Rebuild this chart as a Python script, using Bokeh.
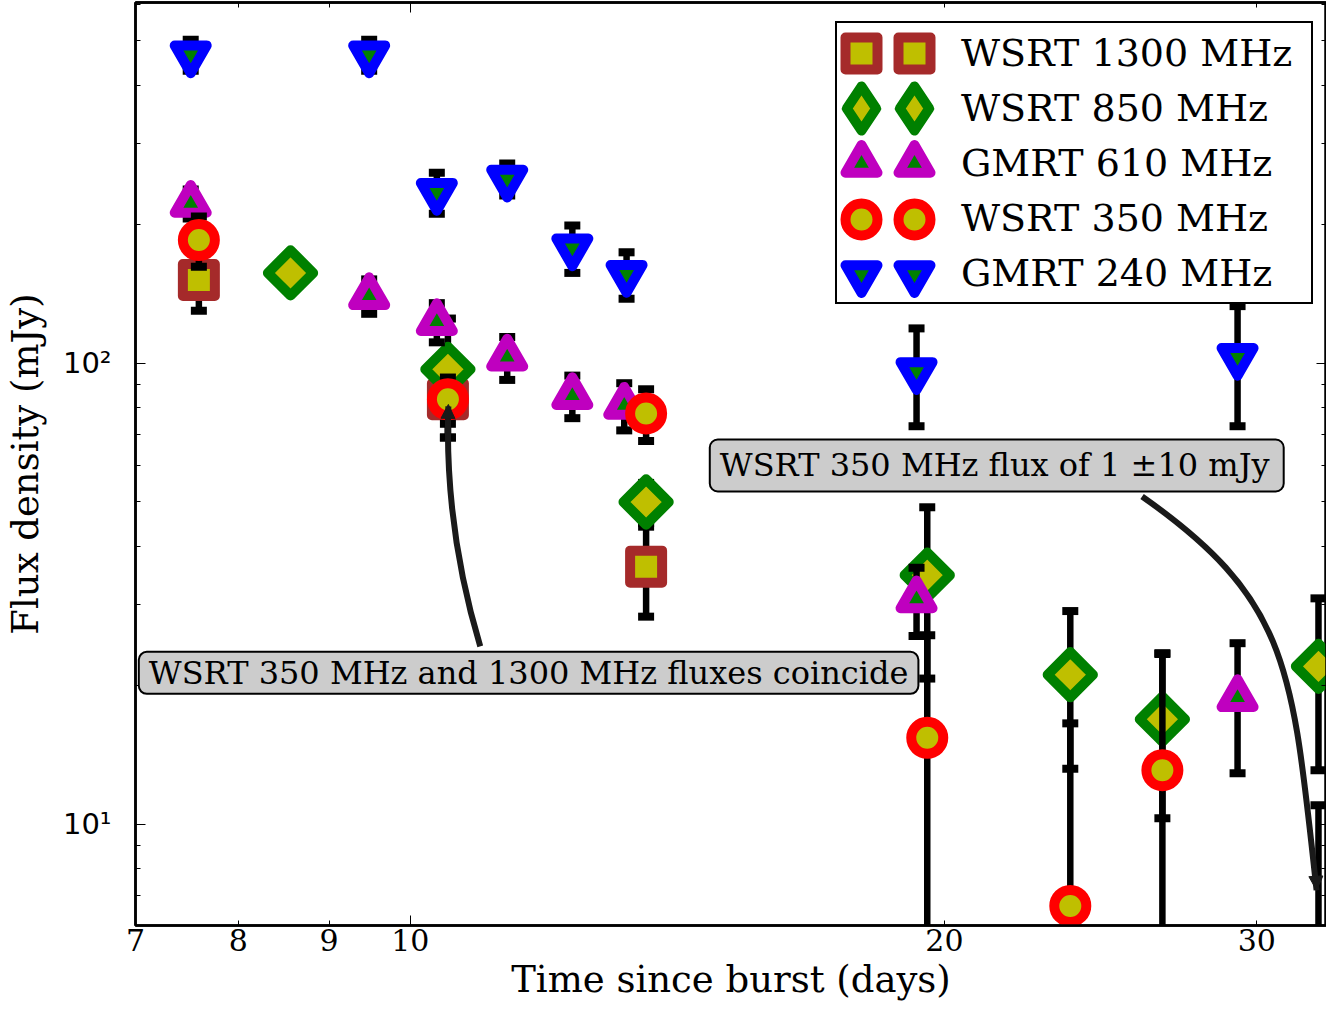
import numpy as np
from bokeh.plotting import figure
from bokeh.models import (FixedTicker, LogAxis, Legend, LegendItem, Label, Arrow,
                          NormalHead, Range1d, BasicTickFormatter)
from bokeh.embed import file_html
from bokeh.resources import INLINE

# ---------------- data (time in days, flux density & error in mJy) ----------------
t_1300 = [7.60, 10.50, 13.58]
f_1300 = [151.5, 83.5, 36.2]
e_1300 = [21.5, 14.5, 8.0]

t_850 = [8.56, 10.50, 13.58, 19.56, 23.55, 26.54, 32.5]
f_850 = [157.0, 97.0, 50.0, 34.7, 21.1, 16.9, 22.0]
e_850 = [10.0, 28.0, 5.0, 14.0, 7.9, 6.6, 8.9]

t_610 = [7.52, 9.48, 10.35, 11.34, 12.34, 13.20, 19.29, 29.26]
f_610 = [222.0, 140.0, 123.0, 103.0, 85.0, 81.0, 30.8, 18.8]
e_610 = [16.0, 12.0, 12.0, 11.0, 9.0, 9.5, 5.2, 5.9]

t_350 = [7.60, 10.50, 13.58, 19.56, 23.55, 26.54, 32.5]
f_350 = [185.0, 83.5, 77.8, 15.4, 6.65, 13.1, 1.0]
e_350 = [23.0, 9.6, 10.0, 10.3, 9.9, 10.3, 10.0]

t_240 = [7.52, 9.48, 10.35, 11.34, 12.34, 13.24, 19.29, 29.26]
f_240 = [467.0, 467.0, 235.0, 251.0, 178.0, 156.0, 96.0, 103.0]
e_240 = [36.0, 36.0, 24.0, 20.0, 21.0, 18.0, 23.0, 30.0]

series_names = ["WSRT 1300 MHz", "WSRT 850 MHz", "GMRT 610 MHz", "WSRT 350 MHz", "GMRT 240 MHz"]

x_ticks = [7, 8, 9, 10, 20, 30]
y_ticks = [10, 100]
y_minor = [6, 7, 8, 9, 20, 30, 40, 50, 60, 70, 80, 90, 200, 300, 400, 500, 600]
y_tick_labels = {10: "10¹", 100: "10²"}

# annotations (data coordinates)
note1_text = "WSRT 350 MHz and 1300 MHz fluxes coincide"
note1_pos = (7.03, 21.3)
arrow1 = dict(x0=10.95, y0=24.3, cx0=10.615, cy0=36.2, cx1=10.469, cy1=54.0, x1=10.506, y1=80.6)
head1 = dict(xs=10.499, ys=74.0, xe=10.506, ye=81.4)

note2_text = "WSRT 350 MHz flux of 1  \u00b110 mJy"
note2_pos = (14.75, 60.0)
arrow2 = dict(x0=25.85, y0=51.4, cx0=31.39, cy0=30.4, cx1=31.40, cy1=21.7, x1=32.42, y1=7.19)
head2 = dict(xs=32.38, ys=7.9, xe=32.42, ye=7.19)

# ---------------- figure ----------------
SERIF = "DejaVu Serif"
p = figure(width=1326, height=1003, x_axis_type="log", y_axis_type="log",
           x_range=Range1d(7, 32.84), y_range=Range1d(6.03, 606),
           output_backend="svg", toolbar_location=None,
           min_border_left=131, min_border_right=0, min_border_top=2, min_border_bottom=70)
p.xgrid.visible = False
p.ygrid.visible = False
p.outline_line_color = "black"
p.outline_line_width = 2.5
p.background_fill_color = "white"

xa = p.xaxis[0]
xa.ticker = FixedTicker(ticks=x_ticks, minor_ticks=[10])
xa.formatter = BasicTickFormatter()
xa.major_tick_in = 5
xa.major_tick_out = 0
xa.minor_tick_in = 10
xa.minor_tick_out = 0
xa.major_label_standoff = 3
xa.major_label_text_font = SERIF
xa.major_label_text_font_size = "30px"
xa.major_label_text_color = "black"
xa.axis_label = "Time since burst (days)"
xa.axis_label_text_font = SERIF
xa.axis_label_text_font_size = "37px"
xa.axis_label_text_font_style = "normal"
xa.axis_label_text_color = "black"
xa.axis_label_standoff = 4
xa.axis_line_width = 2.5

ya = p.yaxis[0]
ya.ticker = FixedTicker(ticks=y_ticks, minor_ticks=y_minor)
ya.major_label_overrides = y_tick_labels
ya.major_tick_in = 10
ya.major_tick_out = 0
ya.minor_tick_in = 5
ya.minor_tick_out = 0
ya.major_label_standoff = 24
ya.major_label_text_font = "DejaVu Sans"
ya.major_label_text_font_size = "29px"
ya.major_label_text_color = "black"
ya.axis_label = "Flux density (mJy)"
ya.axis_label_text_font = SERIF
ya.axis_label_text_font_size = "37px"
ya.axis_label_text_font_style = "normal"
ya.axis_label_text_color = "black"
ya.axis_label_standoff = 13
ya.axis_line_width = 2.5

top_ax = LogAxis(ticker=FixedTicker(ticks=x_ticks, minor_ticks=[10]),
                 major_tick_in=5, major_tick_out=0, minor_tick_in=10, minor_tick_out=0,
                 major_label_overrides={v: "" for v in x_ticks},
                 major_label_text_font_size="0px", major_label_standoff=0,
                 axis_label_standoff=0, axis_line_width=2.5)
p.add_layout(top_ax, "above")
right_ax = LogAxis(ticker=FixedTicker(ticks=y_ticks, minor_ticks=y_minor),
                   major_tick_in=10, major_tick_out=0, minor_tick_in=5, minor_tick_out=0,
                   major_label_overrides={v: "" for v in y_ticks},
                   major_label_text_font_size="0px", major_label_standoff=0,
                   axis_label_standoff=0, axis_line_width=2.5)
p.add_layout(right_ax, "right")


def draw_series(t, f, e, marker, edge, face, angle=0.0):
    t = np.asarray(t, float)
    f = np.asarray(f, float)
    e = np.asarray(e, float)
    lo = f - e
    lo = np.where(lo > 0, lo, 1e-3)
    hi = f + e
    p.segment(t, lo, t, hi, line_color="black", line_width=6.5)
    p.scatter(np.concatenate([t, t]), np.concatenate([lo, hi]), marker="dash",
              size=16, line_width=8, line_color="black")
    return p.scatter(t, f, marker=marker, size=32, angle=angle,
                     fill_color=face, line_color=edge, line_width=10, line_join="round")


YEL = "#bfbf00"
GRN = "#008000"
r1300 = draw_series(t_1300, f_1300, e_1300, "square", "#a52a2a", YEL)
r850 = draw_series(t_850, f_850, e_850, "square", GRN, YEL, angle=np.pi / 4)
r610 = draw_series(t_610, f_610, e_610, "triangle", "#bf00bf", GRN)
r350 = draw_series(t_350, f_350, e_350, "circle", "#ff0000", YEL)
r240 = draw_series(t_240, f_240, e_240, "inverted_triangle", "#0000ff", GRN)

# curved annotation arrows
ARROW_C = "#1a1a1a"
for a, h in ((arrow1, head1), (arrow2, head2)):
    p.bezier(x0=[a["x0"]], y0=[a["y0"]], x1=[a["x1"]], y1=[a["y1"]],
             cx0=[a["cx0"]], cy0=[a["cy0"]], cx1=[a["cx1"]], cy1=[a["cy1"]],
             line_color=ARROW_C, line_width=6)
    p.add_layout(Arrow(x_start=h["xs"], y_start=h["ys"], x_end=h["xe"], y_end=h["ye"],
                       line_color=ARROW_C, line_width=3,
                       end=NormalHead(size=14, fill_color=ARROW_C, line_color=ARROW_C)))

for txt, pos, pad in ((note1_text, note1_pos, (10, 10, 2)), (note2_text, note2_pos, (10, 4, 7))):
    p.add_layout(Label(x=pos[0], y=pos[1], text=txt, text_align="left", text_baseline="middle",
                       text_font=SERIF, text_font_size="32px", text_color="black",
                       background_fill_color="#cccccc", border_line_color="black",
                       border_line_width=2, border_radius=8,
                       padding=dict(left=pad[0], right=pad[1], top=pad[2], bottom=pad[2])))

# ---------------- legend ----------------
# legend-only glyphs: an invisible one for the text box, and a zero-size diamond (850 MHz)
ghost = p.scatter(t_1300, f_1300, marker="circle", size=1, fill_alpha=0, line_alpha=0)
dia = p.scatter(t_850, f_850, marker="diamond", size=0, fill_color=YEL, line_color=GRN,
                line_width=10, line_join="round")

REF_B = 925   # frame bottom (px from top) used to place the legend boxes
FRAME_L = 136
text_leg = Legend(items=[LegendItem(label=n, renderers=[ghost]) for n in series_names],
                  location=(836 - FRAME_L, REF_B - 23 - 281), glyph_width=48, glyph_height=55,
                  label_height=55, label_width=348, padding=2, spacing=0, margin=0,
                  label_standoff=74, label_text_font=SERIF, label_text_font_size="38px",
                  label_text_color="black", border_line_color="black", border_line_alpha=1.0,
                  border_line_width=2.5, background_fill_color="white",
                  background_fill_alpha=1.0)
p.add_layout(text_leg, "center")

row_renderers = [r1300, dia, r610, r350, r240]
row_centers = [53, 108, 163, 219, 274]
for r, cy in zip(row_renderers, row_centers):
    g = 110 if r is dia else 80
    for cx in (862, 915):
        p.add_layout(Legend(items=[LegendItem(label="", renderers=[r])],
                            location=(cx - g // 2 - FRAME_L, REF_B - cy - g // 2),
                            glyph_width=g, glyph_height=g, label_height=1, label_width=0,
                            label_standoff=0, padding=0, spacing=0, margin=0,
                            label_text_font_size="1px",
                            border_line_color=None, background_fill_alpha=0.0), "center")

open("out.html", "w").write(file_html(p, INLINE))
